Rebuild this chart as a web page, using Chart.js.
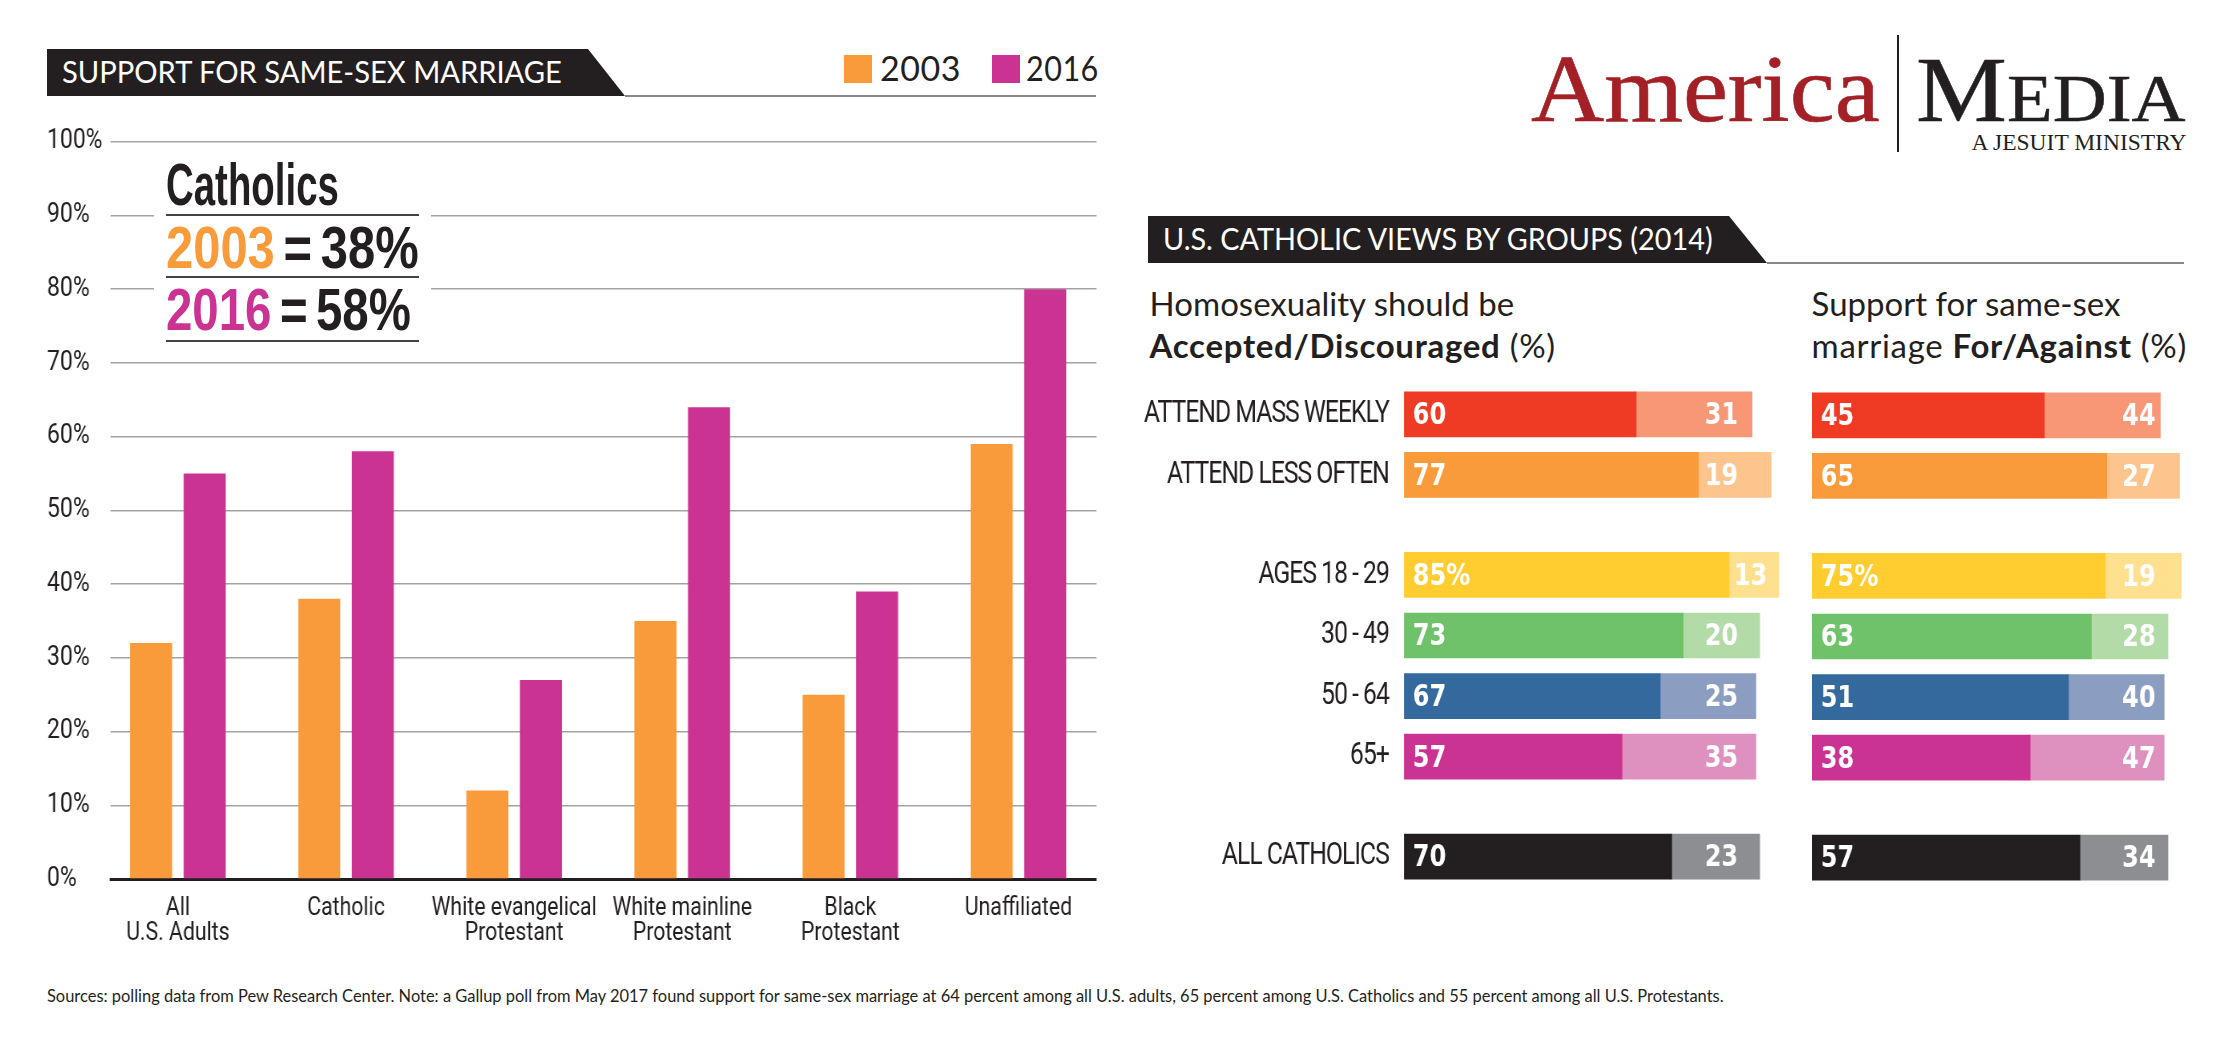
<!DOCTYPE html>
<html>
<head>
<meta charset="utf-8">
<script src="https://cdn.jsdelivr.net/npm/chart.js@4"></script>
<style>
  html, body { margin: 0; padding: 0; background: #fff; }
  body { width: 2225px; height: 1051px; position: relative; overflow: hidden; font-family: Lato, sans-serif; color: #231f20; }
  .box { position: absolute; transform-origin: left top; }
  .box canvas { display: block; }
  .txt { position: absolute; white-space: nowrap; transform-origin: left top; }
  .banner { position: absolute; background: #231f20; color: #fff; font-size: 31px; }
  .banner span { position: absolute; white-space: nowrap; transform-origin: left top; }
  .rule { position: absolute; height: 2px; background: #888; }
  .sub { font-size: 33px; line-height: 42px; }
  .sub i { font-style: normal; letter-spacing: .7px; }
  .note { position: absolute; left: 153.6px; top: 155px; width: 277px; height: 198px; background: #fff; }
  .noteLine { position: absolute; left: 12.4px; width: 253px; height: 2px; background: #444; }
  .big { position: absolute; left: 12.4px; white-space: nowrap; font: bold 60px "Liberation Sans", sans-serif; transform-origin: left top; word-spacing: -6px; }
  .swatch { position: absolute; top: 55px; width: 28px; height: 28px; }
  .year { position: absolute; top: 47px; font-size: 34px; letter-spacing: .5px; transform-origin: left top; }
</style>
</head>
<body>

<div class="banner" style="left:47px;top:49px;width:578px;height:47px;clip-path:polygon(0 0,541px 0,578px 100%,0 100%)"><span style="left:15px;top:3px;transform:scaleX(.94)">SUPPORT FOR SAME-SEX MARRIAGE</span></div>
<div class="rule" style="left:625px;top:95px;width:471px"></div>

<div class="swatch" style="left:844px;background:#f99b3a"></div><div class="year" style="left:880px">2003</div>
<div class="swatch" style="left:992px;background:#cb3393"></div><div class="year" style="left:1026px;transform:scaleX(.9)">2016</div>

<!-- canvases are squeezed in x, there is no condensed face installed -->
<div class="box" style="left:0;top:0;width:1329.4px;height:966px;transform:scaleX(.85)"><canvas id="supportChart"></canvas></div>

<div class="note">
  <div class="big" style="top:-5px;transform:scaleX(.64)">Catholics</div>
  <div class="noteLine" style="top:59px"></div>
  <div class="big" style="top:58px;transform:scaleX(.815)"><span style="color:#f99b3a">2003</span> = 38%</div>
  <div class="noteLine" style="top:121px"></div>
  <div class="big" style="top:120px;transform:scaleX(.79)"><span style="color:#cb3393">2016</span> = 58%</div>
  <div class="noteLine" style="top:185px"></div>
</div>

<div class="txt" style="left:1531px;top:33px;font:96px 'Liberation Serif',serif;color:#a32126;-webkit-text-stroke:.6px #a32126;transform:scaleX(1.055)">America</div>
<div class="box" style="left:1897px;top:35px;width:2px;height:117px;background:#231f20"></div>
<div class="txt" style="left:1915.5px;top:36px;font:93px 'Liberation Serif',serif;transform:scaleX(1.1);-webkit-text-stroke:.5px #231f20">M<span style="font-size:68px">EDIA</span></div>
<div class="txt" style="left:1971.5px;top:129px;font:23.5px 'Liberation Serif',serif;">A JESUIT MINISTRY</div>

<div class="banner" style="left:1147.5px;top:216px;width:619.5px;height:47px;clip-path:polygon(0 0,581.5px 0,619.5px 100%,0 100%)"><span style="left:15px;top:3px;transform:scaleX(.93)">U.S. CATHOLIC VIEWS BY GROUPS (2014)</span></div>
<div class="rule" style="left:1767px;top:262px;width:417px"></div>

<div class="txt sub" style="left:1149.6px;top:282px">Homosexuality should be<br><i><b>Accepted/Discouraged</b> (%)</i></div>
<div class="txt sub" style="left:1811.6px;top:282px">Support for same-sex<br><i>marriage <b>For/Against</b> (%)</i></div>

<div class="box" style="left:1130px;top:384px;width:819.6px;height:503px;transform:scaleX(.8)"><canvas id="acceptChart"></canvas></div>
<div class="box" style="left:1812.3px;top:385px;width:477.5px;height:503px;transform:scaleX(.8)"><canvas id="marriageChart"></canvas></div>

<div class="txt" style="left:47px;top:985px;font-size:17px;transform:scaleX(.967)">Sources:  polling data from Pew Research Center. Note: a Gallup poll from May 2017 found support for same-sex marriage at 64 percent among all U.S. adults, 65 percent among U.S. Catholics and 55 percent among all U.S. Protestants.</div>

<script>
// Left chart data
const categories = [
    ['All', 'U.S. Adults'],
    'Catholic',
    ['White evangelical', 'Protestant'],
    ['White mainline', 'Protestant'],
    ['Black', 'Protestant'],
    'Unaffiliated'
];
const support2003 = [32, 38, 12, 35, 25, 59];
const support2016 = [55, 58, 27, 64, 39, 80];
const percentTicks = [0, 10, 20, 30, 40, 50, 60, 70, 80, 90, 100];

// Right charts data
const groups = ['ATTEND MASS WEEKLY', 'ATTEND LESS OFTEN', 'AGES 18 - 29', '30 - 49', '50 - 64', '65+', 'ALL CATHOLICS'];
const accepted = [60.7, 77, 85, 73, 67, 57, 70];
const discouraged = [30.3, 19, 13, 20, 25, 35, 23];
const acceptedText = ['60', '77', '85%', '73', '67', '57', '70'];
const discouragedText = ['31', '19', '13', '20', '25', '35', '23'];

// The marriage bars in the picture are not drawn to their printed numbers,
// so the bar lengths and the printed labels are kept apart
const forLength = [60.7, 77, 76.6, 73, 67, 57, 70];
const againstLength = [30.3, 19, 19.9, 20, 25, 35, 23];
const forText = ['45', '65', '75%', '63', '51', '38', '57'];
const againstText = ['44', '27', '19', '28', '40', '47', '34'];

const strongColors = ['#f03b24', '#f99b3a', '#ffcd30', '#6fc26a', '#33699c', '#cb3393', '#231f20'];
const paleColors = ['#f79776', '#fdc58d', '#ffe08f', '#b3dba8', '#8b9dc0', '#de90bf', '#8d8e91'];

// Rows sit on a linear axis so the gaps between the three row groups can be wider
const rowGroup = [0, 0, 1, 1, 1, 1, 2];
const rowPos = rowGroup.map((g, i) => i + g * 0.65);

// Tightens the tick text
const tightText = {
    id: 'tightText',
    beforeDraw(chart, args, opts) {
        chart.ctx.letterSpacing = (opts.spacing || 0) + 'px';
    }
};

// Numbers printed inside the stacked bars
const barNumbers = {
    id: 'barNumbers',
    afterDatasetsDraw(chart, args, opts) {
        if (!opts.first) return;
        const ctx = chart.ctx;
        const xScale = chart.scales.x;
        ctx.save();
        ctx.letterSpacing = '0px';
        ctx.font = 'bold 30px "DejaVu Sans", sans-serif';
        ctx.fillStyle = '#fff';
        ctx.textBaseline = 'middle';
        ctx.textAlign = 'left';
        chart.getDatasetMeta(0).data.forEach((bar, i) => {
            ctx.fillText(opts.first[i], xScale.getPixelForValue(0) + 11, bar.y + 2);
        });
        chart.getDatasetMeta(1).data.forEach((bar, i) => {
            const x = Math.max(bar.base + 6, xScale.getPixelForValue(opts.secondAt));
            ctx.fillText(opts.second[i], x, bar.y + 2);
        });
        ctx.restore();
    }
};
Chart.register(tightText, barNumbers);

new Chart(document.getElementById('supportChart'), {
    type: 'bar',
    data: {
        datasets: [
            {
                label: '2003',
                data: support2003.map((v, i) => ({ x: i, y: v })),
                backgroundColor: '#f99b3a',
                categoryPercentage: 0.637,
                barPercentage: 0.785
            },
            {
                label: '2016',
                data: support2016.map((v, i) => ({ x: i, y: v })),
                backgroundColor: '#cb3393',
                categoryPercentage: 0.637,
                barPercentage: 0.785
            }
        ]
    },
    options: {
        responsive: true,
        maintainAspectRatio: false,
        animation: false,
        layout: { padding: { left: 55.3, right: 39.5, top: 141.7, bottom: 0 } },
        plugins: {
            legend: { display: false },
            tooltip: { enabled: false }
        },
        scales: {
            x: {
                type: 'linear',
                offset: false,
                min: -0.4,
                max: 5.464,
                afterBuildTicks: scale => {
                    scale.ticks = categories.map((c, i) => ({ value: i }));
                },
                afterFit: scale => { scale.height = 87; },
                grid: { display: false, drawTicks: false, offset: false },
                border: { color: '#231f20', width: 3 },
                ticks: {
                    autoSkip: false,
                    maxRotation: 0,
                    padding: 17,
                    color: '#231f20',
                    font: { family: 'Roboto', size: 25, lineHeight: 1 },
                    callback: (v, i) => categories[i]
                }
            },
            y: {
                min: 0,
                max: 100,
                afterBuildTicks: scale => {
                    scale.ticks = percentTicks.map(v => ({ value: v }));
                },
                afterFit: scale => { scale.width = 74.9; },
                grid: { color: '#a3a3a3', lineWidth: 1.5, drawTicks: false },
                border: { display: false },
                ticks: {
                    crossAlign: 'far',
                    color: '#231f20',
                    font: { family: 'Roboto', size: 27 },
                    callback: v => v + '%'
                }
            }
        }
    }
});

const makeRowChart = (id, strong, pale, showLabels, numbers) => {
    new Chart(document.getElementById(id), {
        type: 'bar',
        data: {
            datasets: [
                {
                    data: strong.map((v, i) => ({ x: v, y: rowPos[i] })),
                    backgroundColor: strongColors,
                    barThickness: 45
                },
                {
                    data: pale.map((v, i) => ({ x: v, y: rowPos[i] })),
                    backgroundColor: paleColors,
                    barThickness: 45
                }
            ]
        },
        options: {
            indexAxis: 'y',
            responsive: true,
            maintainAspectRatio: false,
            animation: false,
            plugins: {
                legend: { display: false },
                tooltip: { enabled: false },
                tightText: { spacing: -1.3 },
                barNumbers: numbers
            },
            scales: {
                x: { stacked: true, display: false, min: 0, max: 100 },
                y: {
                    type: 'linear',
                    offset: false,
                    stacked: true,
                    reverse: true,
                    min: -0.5,
                    max: 7.8,
                    display: showLabels,
                    afterBuildTicks: scale => {
                        scale.ticks = rowPos.map(v => ({ value: v }));
                    },
                    // no reserved room above and below, the rows fill the whole height
                    afterFit: scale => {
                        scale.width = showLabels ? 342.1 : 0;
                        scale.paddingTop = 0;
                        scale.paddingBottom = 0;
                    },
                    grid: { display: false, drawTicks: false, offset: false },
                    border: { display: false },
                    ticks: {
                        autoSkip: false,
                        padding: 19,
                        color: '#231f20',
                        font: { family: 'Roboto', size: 31 },
                        callback: (v, i) => groups[i]
                    }
                }
            }
        }
    });
};

makeRowChart('acceptChart', accepted, discouraged, true, { first: acceptedText, second: discouragedText, secondAt: 78.6 });
makeRowChart('marriageChart', forLength, againstLength, false, { first: forText, second: againstText, secondAt: 81 });
</script>
</body>
</html>
